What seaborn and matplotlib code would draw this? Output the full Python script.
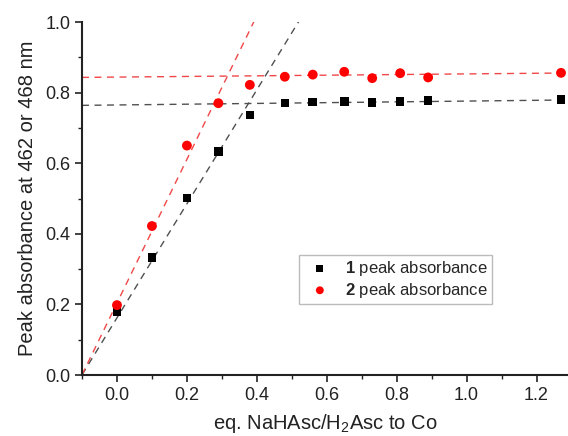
import numpy as np
import pandas as pd
import matplotlib
matplotlib.use("Agg")
import matplotlib.pyplot as plt
from matplotlib.ticker import MultipleLocator, FormatStrFormatter
import seaborn as sns

# Equivalents of reductant added
eq = [0.0, 0.1, 0.2, 0.29, 0.38, 0.48, 0.56, 0.65, 0.73, 0.81, 0.89, 1.27]
# Peak absorbance of complex 1 (462 nm) and complex 2 (468 nm)
abs_1 = [0.178, 0.333, 0.502, 0.633, 0.736, 0.770, 0.773, 0.775, 0.772, 0.775, 0.778, 0.780]
abs_2 = [0.198, 0.422, 0.650, 0.770, 0.822, 0.845, 0.851, 0.859, 0.841, 0.855, 0.843, 0.856]

# Linear fits (slope, intercept): rising part and plateau
rise_1 = (1.615, 0.162)
rise_2 = (2.035, 0.204)
plateau_1 = (0.011, 0.765)
plateau_2 = (0.009, 0.844)

series_labels = [r"$\mathbf{1}$ peak absorbance", r"$\mathbf{2}$ peak absorbance"]

sns.set_style("ticks")
plt.rcParams["font.family"] = ["Liberation Sans", "DejaVu Sans"]
plt.rcParams["mathtext.fontset"] = "custom"
plt.rcParams["mathtext.rm"] = "Liberation Sans"
plt.rcParams["mathtext.it"] = "Liberation Sans:italic"
plt.rcParams["mathtext.bf"] = "Liberation Sans:bold"

fig = plt.figure(figsize=(5.68, 4.36), dpi=100)
ax = fig.add_axes([0.1444, 0.1399, 0.8556, 0.8096])

XMIN, XMAX = -0.1, 1.29


def fit_frame(coef, x0, x1):
    xs = np.array([x0, x1])
    return pd.DataFrame({"x": xs, "y": coef[0] * xs + coef[1]})


for coef, col in [(rise_1, "#505050"), (plateau_1, "#505050"),
                  (rise_2, "#f04848"), (plateau_2, "#f04848")]:
    d = fit_frame(coef, XMIN, XMAX)
    sns.lineplot(data=d, x="x", y="y", ax=ax, color=col, lw=1.0,
                 linestyle=(0, (5, 4)), zorder=2, legend=False)

sns.scatterplot(x=eq, y=abs_1, ax=ax, marker="s", s=38, color="black",
                edgecolor="none", label=series_labels[0], zorder=3)
sns.scatterplot(x=eq, y=abs_2, ax=ax, marker="o", s=50, color="#ff0000",
                edgecolor="none", label=series_labels[1], zorder=3)

ax.set_xlim(XMIN, XMAX)
ax.set_ylim(0.0, 1.0)
ax.xaxis.set_major_locator(MultipleLocator(0.2))
ax.xaxis.set_minor_locator(MultipleLocator(0.1))
ax.yaxis.set_major_locator(MultipleLocator(0.2))
ax.yaxis.set_minor_locator(MultipleLocator(0.1))
ax.tick_params(which="major", direction="out", length=5, width=1.2,
               labelsize=13, color="#222222", labelcolor="#222222")
ax.tick_params(which="minor", direction="out", length=3, width=1.0, color="#222222")
ax.xaxis.set_major_formatter(FormatStrFormatter("%.1f"))
ax.yaxis.set_major_formatter(FormatStrFormatter("%.1f"))

for side in ["top", "right"]:
    ax.spines[side].set_visible(False)
for side in ["left", "bottom"]:
    ax.spines[side].set_linewidth(1.5)
    ax.spines[side].set_color("#222222")

ax.set_xlabel(r"eq. NaHAsc/H$_2$Asc to Co", fontsize=14.5, color="#222222", labelpad=6)
ax.set_ylabel("Peak absorbance at 462 or 468 nm", fontsize=14.5, color="#222222", labelpad=6)

leg = ax.legend(loc="upper left", bbox_to_anchor=(0.4465, 0.340), borderaxespad=0,
                fontsize=12, frameon=True, fancybox=False, edgecolor="#aaaaaa",
                handletextpad=0.5, borderpad=0.25, labelspacing=0.15,
                handlelength=2.0, markerscale=0.8)
leg.get_frame().set_linewidth(1.0)

fig.savefig("out.png", dpi=100)
